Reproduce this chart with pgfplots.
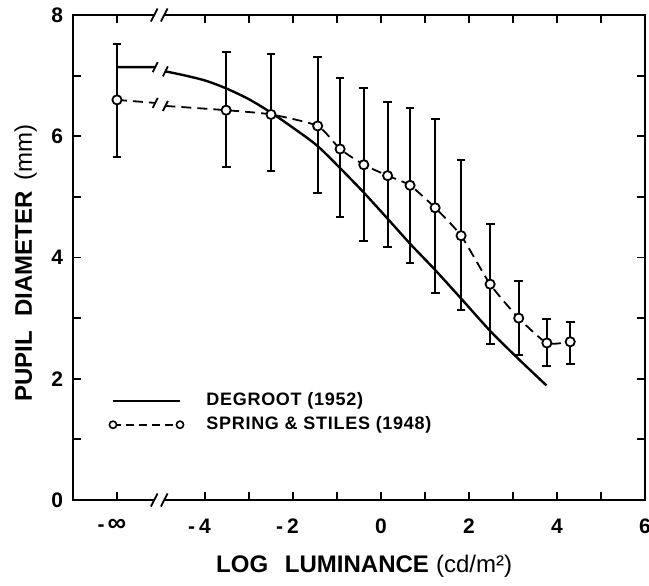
\documentclass[border=0pt]{standalone}
\usepackage{fontspec}
\setmainfont{Liberation Sans}
\usepackage{pgfplots}
\pgfplotsset{compat=1.18}
\usepackage{pgfplotstable}

% Spring & Stiles (1948): mean pupil diameter, with upper / lower spread
\pgfplotstableread{
x      y     ep    em
-6.00  6.60  0.93  0.95
-3.52  6.43  0.96  0.94
-2.50  6.36  1.00  0.94
-1.44  6.17  1.14  1.10
-0.93  5.79  1.17  1.12
-0.39  5.53  1.26  1.25
 0.15  5.35  1.21  1.17
 0.66  5.19  1.28  1.28
 1.23  4.82  1.46  1.41
 1.82  4.36  1.25  1.23
 2.48  3.56  1.00  0.98
 3.13  3.00  0.62  0.61
 3.77  2.59  0.40  0.38
 4.30  2.61  0.33  0.36
}\springstiles

% dashed trace through the Spring & Stiles means (broken at the axis break)
\pgfplotstableread{
x      y
-6.00  6.60
-5.13  6.55
-5.00  nan
-4.90  6.50
-3.52  6.43
-2.50  6.36
-1.44  6.17
-0.93  5.79
-0.39  5.53
 0.15  5.35
 0.66  5.19
 1.23  4.82
 1.82  4.36
 2.48  3.56
 3.13  3.00
 3.77  2.59
 4.30  2.61
}\springline

% DeGroot (1952) curve
\pgfplotstableread{
x      y
-6.00  7.14
-5.13  7.14
-5.00  nan
-4.90  7.07
-4.50  7.01
-4.00  6.92
-3.52  6.79
-3.00  6.61
-2.50  6.39
-2.00  6.14
-1.46  5.85
-0.95  5.49
-0.39  5.07
 0.15  4.64
 0.67  4.22
 1.21  3.81
 1.80  3.34
 2.48  2.79
 3.12  2.33
 3.76  1.89
}\degroot

\begin{document}
\begin{tikzpicture}
\begin{axis}[
  scale only axis, width=286pt, height=242.5pt,
  at={(0pt,0pt)}, anchor=south west,
  xmin=-7, xmax=6, ymin=0, ymax=8,
  unbounded coords=jump,
  axis line style={line width=1.2pt},
  tick align=inside, tick pos=both,
  major tick length=4pt, minor tick length=4pt,
  every tick/.style={line width=0.9pt, black},
  xtick={-6,-4,-2,0,2,4,6},
  xticklabels={\llap{-\hspace{1.5pt}}{\fontsize{13}{14}\selectfont ∞}, \llap{-\hspace{2pt}}4, \llap{-\hspace{2pt}}2, 0, 2, 4, 6},
  minor xtick={-3,-1,1,3,5},
  ytick={0,2,4,6,8},
  yticklabels={0,2,4,6,8},
  minor ytick={1,3,5,7},
  xticklabel style={font=\bfseries\fontsize{10.5}{12}\selectfont, yshift=-6pt},
  yticklabel style={font=\bfseries\fontsize{10.5}{12}\selectfont, xshift=-1.5pt},
  xlabel={\bfseries LOG\hspace{0.7em}LUMINANCE\hspace{0.3em}\mdseries(cd/m²)},
  ylabel={\bfseries PUPIL\hspace{0.6em}DIAMETER\hspace{0.45em}\mdseries(mm)},
  label style={font=\fontsize{12}{14}\selectfont},
  xlabel style={at={(axis description cs:0.509,-0.1505)}, anchor=base},
  ylabel style={at={(axis description cs:-0.0717,0.489)}, anchor=base},
  legend style={draw=none, fill=none, inner sep=0pt,
    at={(axis cs:-6.2,1.44)}, anchor=west,
    font=\bfseries\fontsize{9}{10}\selectfont\addfontfeatures{LetterSpace=4},
    row sep=0pt, column sep=9pt},
  legend cell align=left,
]
\addlegendimage{legend image code/.code={\draw[line width=1.1pt] (0pt,0pt) -- (33.5pt,0pt);}}
\addlegendentry{DEGROOT (1952)}
\addlegendimage{legend image code/.code={%
  \draw[line width=0.8pt, dash pattern=on 4pt off 2.5pt] (0pt,0pt) -- (33.5pt,0pt);
  \draw[line width=0.8pt, fill=white] (0pt,0pt) circle (1.8pt) (33.5pt,0pt) circle (1.8pt);}}
\addlegendentry{SPRING \& STILES (1948)}

% DeGroot curve
\addplot[forget plot, black, line width=1.2pt, smooth, tension=0.5] table[x=x, y=y] {\degroot};

% Spring & Stiles: dashed trace
\addplot[forget plot, black, line width=0.9pt, dash pattern=on 5pt off 3pt, smooth, tension=0.35] table[x=x, y=y] {\springline};

% Spring & Stiles: spread bars
\addplot[forget plot, black, only marks, mark=none,
  error bars/.cd, y dir=both, y explicit,
  error bar style={line width=1pt, solid},
  error mark options={rotate=90, mark size=2.2pt, line width=1pt}]
  table[x=x, y=y, y error plus=ep, y error minus=em] {\springstiles};

% Spring & Stiles: open circles
\addplot[forget plot, black, only marks, mark=*, mark size=2.3pt,
  mark options={fill=white, line width=0.9pt, solid}]
  table[x=x, y=y] {\springstiles};

% break ticks on the two curves
\foreach \bx/\by in {-5.13/7.14, -4.90/7.07, -5.13/6.55, -4.90/6.50}{
  \edef\tmp{\noexpand\draw[line width=0.9pt] ([shift={(-1.25pt,-2.5pt)}]axis cs:\bx,\by) -- ++(2.5pt,5pt);}\tmp
}

\coordinate (brtop) at (axis cs:-5.04,8);
\coordinate (brbot) at (axis cs:-5.04,0);
\end{axis}

% break in the top and bottom frame lines
\foreach \c in {brtop, brbot}{
  \fill[white] ([shift={(-2.5pt,-1pt)}]\c) rectangle ([shift={(2.5pt,1pt)}]\c);
  \draw[line width=0.9pt] ([shift={(-2.5pt-1.65pt,-3.25pt)}]\c) -- ++(3.3pt,6.5pt);
  \draw[line width=0.9pt] ([shift={(2.5pt-1.65pt,-3.25pt)}]\c) -- ++(3.3pt,6.5pt);
}

\pgfresetboundingbox
\useasboundingbox (-36.5pt,-42.5pt) rectangle (288pt,250pt);
\end{tikzpicture}
\end{document}
